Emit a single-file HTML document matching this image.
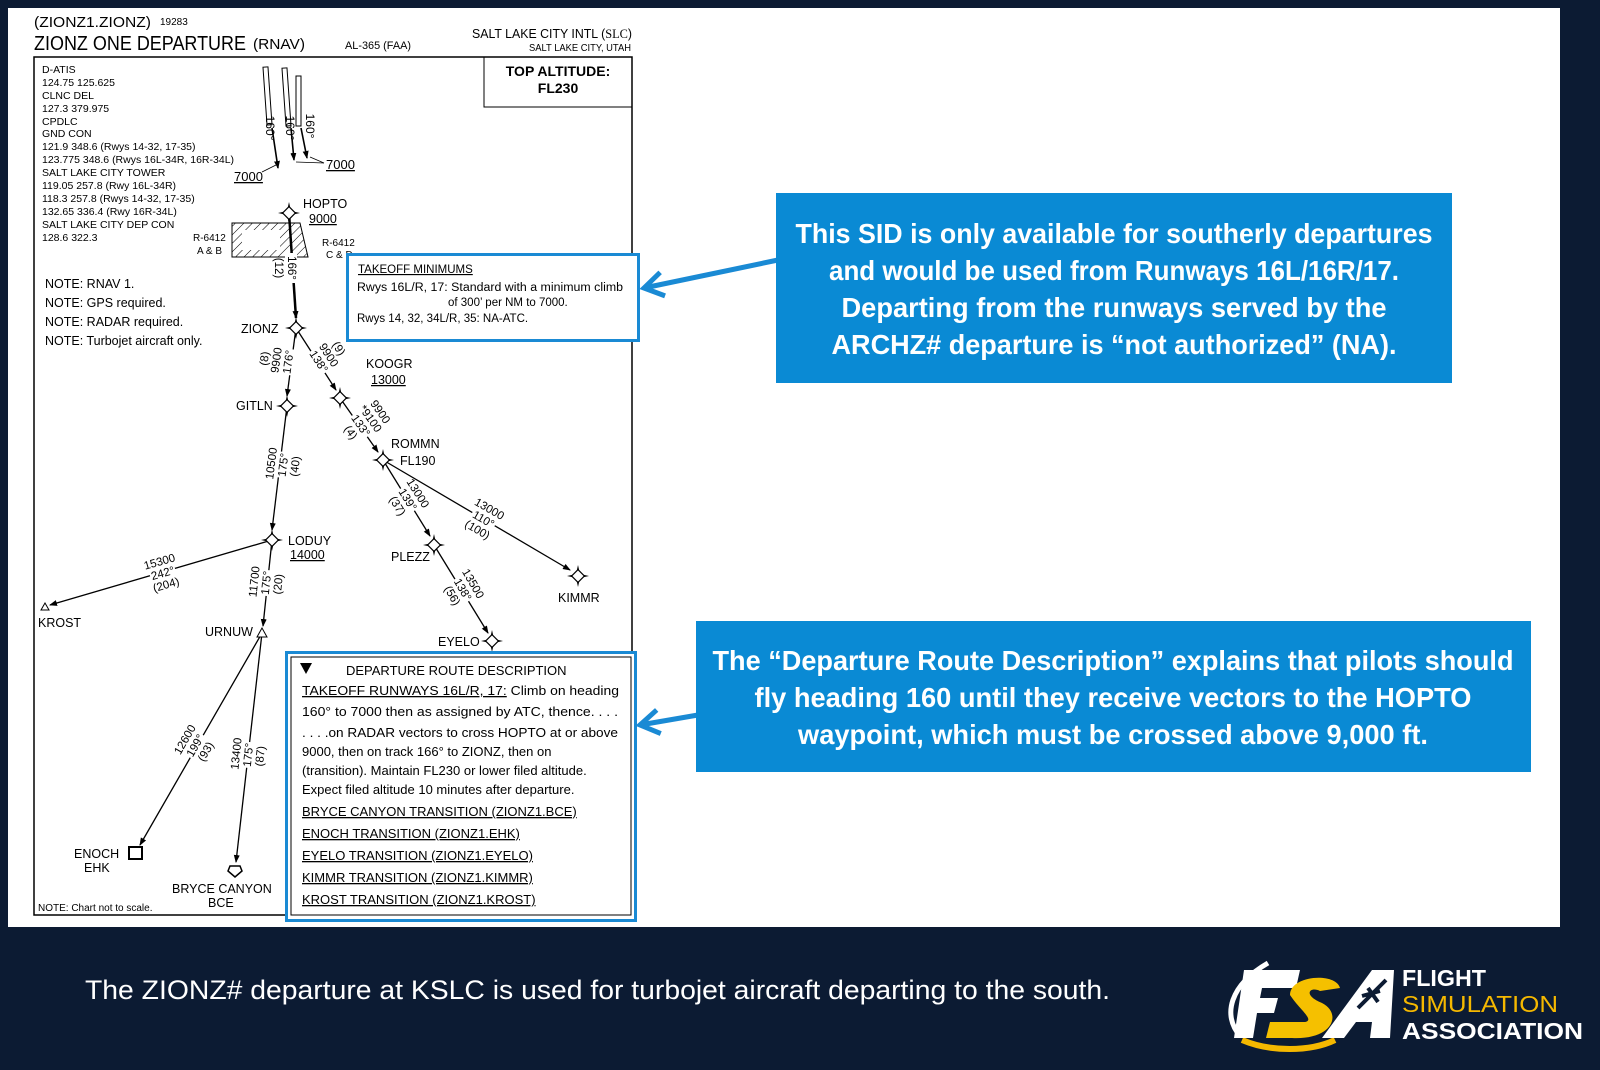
<!DOCTYPE html>
<html><head><meta charset="utf-8"><style>
html,body{margin:0;padding:0;background:#0c1b33;}
svg{display:block;}
text{font-family:"Liberation Sans",sans-serif;}
.lb text{text-anchor:middle;dominant-baseline:central;}
</style></head><body>
<svg width="1600" height="1070" viewBox="0 0 1600 1070" xmlns="http://www.w3.org/2000/svg">
<defs>
<marker id="ah" markerWidth="8" markerHeight="8" refX="7" refY="4" orient="auto" markerUnits="userSpaceOnUse"><path d="M0,1 L8,4 L0,7 Z" fill="#000"/></marker>
<marker id="bh" markerWidth="30" markerHeight="30" refX="21" refY="15" orient="auto" markerUnits="userSpaceOnUse"><path d="M2,3 L21,15 L2,27" fill="none" stroke="#1a8ad4" stroke-width="5"/></marker>
<pattern id="hatch" width="6" height="6" patternUnits="userSpaceOnUse" patternTransform="rotate(45)"><line x1="0" y1="0" x2="0" y2="6" stroke="#000" stroke-width="1"/></pattern>
<g id="wp"><path d="M0,-11 L2,-2 L11,0 L2,2 L0,11 L-2,2 L-11,0 L-2,-2 Z" fill="#000"/><rect x="-4.5" y="-4.5" width="9" height="9" transform="rotate(45)" fill="#fff" stroke="#000" stroke-width="1.2"/></g>
</defs>
<rect x="0" y="0" width="1600" height="1070" fill="#0c1b33"/>
<rect x="8" y="8" width="1552" height="919" fill="#fff"/>

<!-- chart header -->
<g fill="#000">
<text x="34" y="27" font-size="15" textLength="117" lengthAdjust="spacingAndGlyphs">(ZIONZ1.ZIONZ)</text>
<text x="160" y="25" font-size="10">19283</text>
<text x="34" y="50" font-size="20" textLength="212" lengthAdjust="spacingAndGlyphs">ZIONZ ONE DEPARTURE</text>
<text x="253" y="49" font-size="15" textLength="52" lengthAdjust="spacingAndGlyphs">(RNAV)</text>
<text x="345" y="49" font-size="11" textLength="66" lengthAdjust="spacingAndGlyphs">AL-365 (FAA)</text>
<text x="472" y="38" font-size="13" textLength="160" lengthAdjust="spacingAndGlyphs">SALT LAKE CITY INTL (<tspan font-family="Liberation Serif">SLC</tspan>)</text>
<text x="529" y="51" font-size="10" textLength="102" lengthAdjust="spacingAndGlyphs">SALT LAKE CITY, UTAH</text>
</g>
<rect x="34" y="57" width="598" height="858" fill="none" stroke="#000" stroke-width="1.5"/>
<rect x="484" y="57" width="148" height="50" fill="none" stroke="#000" stroke-width="1"/>
<text x="558" y="76" font-size="14" font-weight="bold" text-anchor="middle">TOP ALTITUDE:</text>
<text x="558" y="93" font-size="14" font-weight="bold" text-anchor="middle">FL230</text>

<g font-size="10.5" fill="#000">
<text x="42" y="73">D-ATIS</text>
<text x="42" y="86">124.75  125.625</text>
<text x="42" y="99">CLNC DEL</text>
<text x="42" y="112">127.3  379.975</text>
<text x="42" y="125">CPDLC</text>
<text x="42" y="137">GND CON</text>
<text x="42" y="150">121.9  348.6 (Rwys 14-32, 17-35)</text>
<text x="42" y="163">123.775  348.6 (Rwys 16L-34R, 16R-34L)</text>
<text x="42" y="176">SALT LAKE CITY TOWER</text>
<text x="42" y="189">119.05  257.8 (Rwy 16L-34R)</text>
<text x="42" y="202">118.3  257.8 (Rwys 14-32, 17-35)</text>
<text x="42" y="215">132.65  336.4 (Rwy 16R-34L)</text>
<text x="42" y="228">SALT LAKE CITY DEP CON</text>
<text x="42" y="241">128.6  322.3</text>
</g>
<g font-size="12.5" fill="#000">
<text x="45" y="288">NOTE: RNAV 1.</text>
<text x="45" y="307">NOTE: GPS required.</text>
<text x="45" y="326">NOTE: RADAR required.</text>
<text x="45" y="345">NOTE: Turbojet aircraft only.</text>
<text x="38" y="911" font-size="10">NOTE:  Chart not to scale.</text>
</g>

<!-- runways -->
<g stroke="#000" stroke-width="1" fill="#fff">
<rect x="265" y="67" width="5" height="58" transform="rotate(-4 267 96)"/>
<rect x="284" y="68" width="5" height="58" transform="rotate(-4 286 97)"/>
<rect x="296" y="76" width="5" height="50"/>
</g>
<g stroke="#000" stroke-width="1.6" fill="none">
<line x1="272" y1="128" x2="278" y2="168" marker-end="url(#ah)"/>
<line x1="291" y1="128" x2="294" y2="160" marker-end="url(#ah)"/>
<line x1="301" y1="128" x2="307" y2="158" marker-end="url(#ah)"/>
</g>
<g stroke="#000" stroke-width="0.8"><line x1="262" y1="172" x2="278" y2="164"/><line x1="296" y1="162" x2="324" y2="163"/><line x1="310" y1="157" x2="324" y2="163"/></g>
<g font-size="12" fill="#000" class="lb">
<text transform="translate(270,128) rotate(90)">160°</text>
<text transform="translate(290,128) rotate(90)">160°</text>
<text transform="translate(310,126) rotate(90)">160°</text>
</g>
<g font-size="13" fill="#000">
<text x="234" y="181" text-decoration="underline">7000</text>
<text x="326" y="169" text-decoration="underline">7000</text>
</g>
<!-- restricted area -->
<path d="M232,223 L300,223 L308,257 L232,257 Z" fill="url(#hatch)" stroke="#000"/>
<path d="M242,230 L280,230 L280,250 L242,250 Z" fill="#fff"/>
<g font-size="10" fill="#000">
<text x="193" y="241">R-6412</text><text x="197" y="254">A &amp; B</text>
<text x="322" y="246">R-6412</text><text x="326" y="258">C &amp; D</text>
</g>
<!-- route lines -->
<g stroke="#000" stroke-width="1.3" fill="none">
<line x1="289" y1="213" x2="296" y2="318" stroke-width="2.5" marker-end="url(#ah)"/>
<line x1="296" y1="328" x2="287" y2="396" marker-end="url(#ah)"/>
<line x1="296" y1="328" x2="336" y2="390" marker-end="url(#ah)"/>
<line x1="340" y1="398" x2="378" y2="452" marker-end="url(#ah)"/>
<line x1="287" y1="406" x2="272" y2="530" marker-end="url(#ah)"/>
<line x1="383" y1="460" x2="430" y2="536" marker-end="url(#ah)"/>
<line x1="383" y1="460" x2="570" y2="570" marker-end="url(#ah)"/>
<line x1="434" y1="545" x2="488" y2="633" marker-end="url(#ah)"/>
<line x1="272" y1="540" x2="50" y2="605" marker-end="url(#ah)"/>
<line x1="272" y1="540" x2="263" y2="626" marker-end="url(#ah)"/>
<line x1="262" y1="633" x2="140" y2="845" marker-end="url(#ah)"/>
<line x1="262" y1="633" x2="236" y2="862" marker-end="url(#ah)"/>
</g>
<g>
<use href="#wp" x="289" y="213"/><use href="#wp" x="296" y="328"/><use href="#wp" x="287" y="406"/>
<use href="#wp" x="340" y="398"/><use href="#wp" x="383" y="460"/><use href="#wp" x="272" y="540"/>
<use href="#wp" x="434" y="545"/><use href="#wp" x="578" y="576"/><use href="#wp" x="492" y="641"/>
</g>
<path d="M45,603 L41,610 L49,610 Z" fill="#fff" stroke="#000"/>
<path d="M262,628 L257,637 L267,637 Z" fill="#fff" stroke="#000"/>
<rect x="129" y="847" width="13" height="12" fill="#fff" stroke="#000" stroke-width="2"/>
<path d="M230,866 L240,866 L242,871 L235,877 L228,871 Z" fill="#fff" stroke="#000" stroke-width="1.5"/>
<g font-size="12.5" fill="#000">
<text x="303" y="208">HOPTO</text><text x="309" y="223" text-decoration="underline">9000</text>
<text x="241" y="333">ZIONZ</text>
<text x="236" y="410">GITLN</text>
<text x="366" y="368">KOOGR</text><text x="371" y="384" text-decoration="underline">13000</text>
<text x="391" y="448">ROMMN</text><text x="400" y="465">FL190</text>
<text x="288" y="545">LODUY</text><text x="290" y="559" text-decoration="underline">14000</text>
<text x="391" y="561">PLEZZ</text>
<text x="558" y="602">KIMMR</text>
<text x="438" y="646">EYELO</text>
<text x="38" y="627">KROST</text>
<text x="205" y="636">URNUW</text>
<text x="74" y="858">ENOCH</text><text x="84" y="872">EHK</text>
<text x="172" y="893">BRYCE CANYON</text><text x="208" y="907">BCE</text>
</g>
<g font-size="11.5" fill="#000" class="lb">
<g transform="translate(291,268) rotate(90)"><rect x="-15" y="-6" width="30" height="12" fill="#fff"/><text y="0">166°</text><text y="13">(12)</text></g>
<g transform="translate(289,362) rotate(-82)"><rect x="-13" y="-6" width="26" height="12" fill="#fff"/><text y="0">176°</text><text y="-12">9900</text><text y="-24">(8)</text></g>
<g transform="translate(318,362) rotate(57)"><rect x="-13" y="-6" width="26" height="12" fill="#fff"/><text y="0">138°</text><text y="-12">9900</text><text y="-24">(9)</text></g>
<g transform="translate(360,426) rotate(55)"><rect x="-13" y="-6" width="26" height="12" fill="#fff"/><text y="0">133°</text><text y="12">(4)</text><text y="-12">*9100</text><text y="-24">9900</text></g>
<g transform="translate(284,465) rotate(-83)"><rect x="-13" y="-6" width="26" height="12" fill="#fff"/><text y="0">175°</text><text y="-12">10500</text><text y="12">(40)</text></g>
<g transform="translate(407,500) rotate(58)"><rect x="-13" y="-6" width="26" height="12" fill="#fff"/><text y="0">139°</text><text y="-12">13000</text><text y="12">(37)</text></g>
<g transform="translate(483,520) rotate(30)"><rect x="-13" y="-6" width="26" height="12" fill="#fff"/><text y="0">110°</text><text y="-12">13000</text><text y="12">(100)</text></g>
<g transform="translate(462,590) rotate(60)"><rect x="-13" y="-6" width="26" height="12" fill="#fff"/><text y="0">138°</text><text y="-12">13500</text><text y="12">(56)</text></g>
<g transform="translate(163,574) rotate(-16)"><rect x="-13" y="-6" width="26" height="12" fill="#fff"/><text y="0">242°</text><text y="-12">15300</text><text y="12">(204)</text></g>
<g transform="translate(267,583) rotate(-84)"><rect x="-13" y="-6" width="26" height="12" fill="#fff"/><text y="0">175°</text><text y="-12">11700</text><text y="12">(20)</text></g>
<g transform="translate(196,746) rotate(-60)"><rect x="-13" y="-6" width="26" height="12" fill="#fff"/><text y="0">199°</text><text y="-12">12600</text><text y="12">(93)</text></g>
<g transform="translate(249,755) rotate(-84)"><rect x="-13" y="-6" width="26" height="12" fill="#fff"/><text y="0">175°</text><text y="-12">13400</text><text y="12">(87)</text></g>
</g>

<!-- takeoff minimums -->
<rect x="347.5" y="254.5" width="291" height="86" fill="#fff" stroke="#1a8ad4" stroke-width="3"/>
<g font-size="11.5" fill="#000">
<text x="358" y="273" text-decoration="underline">TAKEOFF MINIMUMS</text>
<text x="357" y="291" textLength="266" lengthAdjust="spacingAndGlyphs">Rwys 16L/R, 17: Standard with a minimum climb</text>
<text x="448" y="306">of 300’ per NM to 7000.</text>
<text x="357" y="322">Rwys 14, 32, 34L/R, 35: NA-ATC.</text>
</g>

<!-- departure route description -->
<rect x="286.5" y="652.5" width="349" height="268" fill="#fff" stroke="#1a8ad4" stroke-width="3"/>
<rect x="291" y="657" width="340" height="258" fill="none" stroke="#000" stroke-width="1"/>
<path d="M300,663 L312,663 L306,674 Z" fill="#000"/>
<g font-size="13" fill="#000">
<text x="346" y="675">DEPARTURE ROUTE DESCRIPTION</text>
<text x="302" y="695" textLength="317" lengthAdjust="spacingAndGlyphs"><tspan text-decoration="underline">TAKEOFF RUNWAYS 16L/R, 17:</tspan> Climb on heading</text>
<text x="302" y="716" textLength="316" lengthAdjust="spacingAndGlyphs">160° to 7000 then as assigned by ATC, thence. . . .</text>
<text x="302" y="737" textLength="316" lengthAdjust="spacingAndGlyphs">. . . .on RADAR vectors to cross HOPTO at or above</text>
<text x="302" y="756">9000, then on track 166° to ZIONZ, then on</text>
<text x="302" y="775">(transition). Maintain FL230 or lower filed altitude.</text>
<text x="302" y="794">Expect filed altitude 10 minutes after departure.</text>
<g text-decoration="underline">
<text x="302" y="816">BRYCE CANYON TRANSITION (ZIONZ1.BCE)</text>
<text x="302" y="838">ENOCH TRANSITION (ZIONZ1.EHK)</text>
<text x="302" y="860">EYELO TRANSITION (ZIONZ1.EYELO)</text>
<text x="302" y="882">KIMMR TRANSITION (ZIONZ1.KIMMR)</text>
<text x="302" y="904">KROST TRANSITION (ZIONZ1.KROST)</text>
</g></g>

<!-- callouts -->
<line x1="778" y1="260" x2="644" y2="288" stroke="#1a8ad4" stroke-width="5" marker-end="url(#bh)"/>
<rect x="776" y="193" width="676" height="190" fill="#0a8ad4"/>
<g fill="#fff" font-weight="bold" font-size="28" text-anchor="middle">
<text x="1114" y="243" textLength="637" lengthAdjust="spacingAndGlyphs">This SID is only available for southerly departures</text>
<text x="1114" y="280" textLength="570" lengthAdjust="spacingAndGlyphs">and would be used from Runways 16L/16R/17.</text>
<text x="1114" y="317" textLength="545" lengthAdjust="spacingAndGlyphs">Departing from the runways served by the</text>
<text x="1114" y="354" textLength="565" lengthAdjust="spacingAndGlyphs">ARCHZ# departure is “not authorized” (NA).</text>
</g>
<line x1="698" y1="715" x2="640" y2="725" stroke="#1a8ad4" stroke-width="5" marker-end="url(#bh)"/>
<rect x="696" y="621" width="835" height="151" fill="#0a8ad4"/>
<g fill="#fff" font-weight="bold" font-size="28" text-anchor="middle">
<text x="1113" y="670" textLength="801" lengthAdjust="spacingAndGlyphs">The “Departure Route Description” explains that pilots should</text>
<text x="1113" y="707" textLength="717" lengthAdjust="spacingAndGlyphs">fly heading 160 until they receive vectors to the HOPTO</text>
<text x="1113" y="744" textLength="630" lengthAdjust="spacingAndGlyphs">waypoint, which must be crossed above 9,000 ft.</text>
</g>

<!-- footer -->
<text x="85" y="999" fill="#fff" font-size="27" textLength="1025" lengthAdjust="spacingAndGlyphs">The ZIONZ# departure at KSLC is used for turbojet aircraft departing to the south.</text>
<g>
<path d="M1268,963 C1230,985 1222,1015 1240,1036" fill="none" stroke="#fff" stroke-width="5"/>
<path d="M1242,1040 C1270,1052 1310,1052 1335,1040" fill="none" stroke="#f5b800" stroke-width="6"/>
<path d="M1244,970 L1300,970 L1296,988 L1262,988 L1260,998 L1278,998 L1274,1013 L1257,1013 L1253,1038 L1234,1038 Z" fill="#fff"/>
<path d="M1290,995 C1290,975 1336,972 1340,988 L1320,991 C1310,986 1302,995 1322,1003 C1342,1013 1334,1040 1292,1038 L1266,1038 L1270,1022 L1305,1022 C1315,1020 1300,1010 1290,995 Z" fill="#f5c000"/>
<path d="M1322,1038 L1372,970 L1394,970 L1390,1038 L1370,1038 L1372,1022 L1356,1022 L1344,1038 Z" fill="#fff"/>
<path d="M1358,1008 L1386,980 M1368,988 L1378,1002 M1362,996 L1380,991" stroke="#0c1b33" stroke-width="4"/>
<text x="1402" y="986" fill="#fff" font-weight="bold" font-size="23" textLength="84" lengthAdjust="spacingAndGlyphs">FLIGHT</text>
<text x="1402" y="1012" fill="#f5b800" font-size="23" textLength="156" lengthAdjust="spacingAndGlyphs">SIMULATION</text>
<text x="1402" y="1039" fill="#fff" font-weight="bold" font-size="23" textLength="181" lengthAdjust="spacingAndGlyphs">ASSOCIATION</text>
</g>
</svg>
</body></html>
